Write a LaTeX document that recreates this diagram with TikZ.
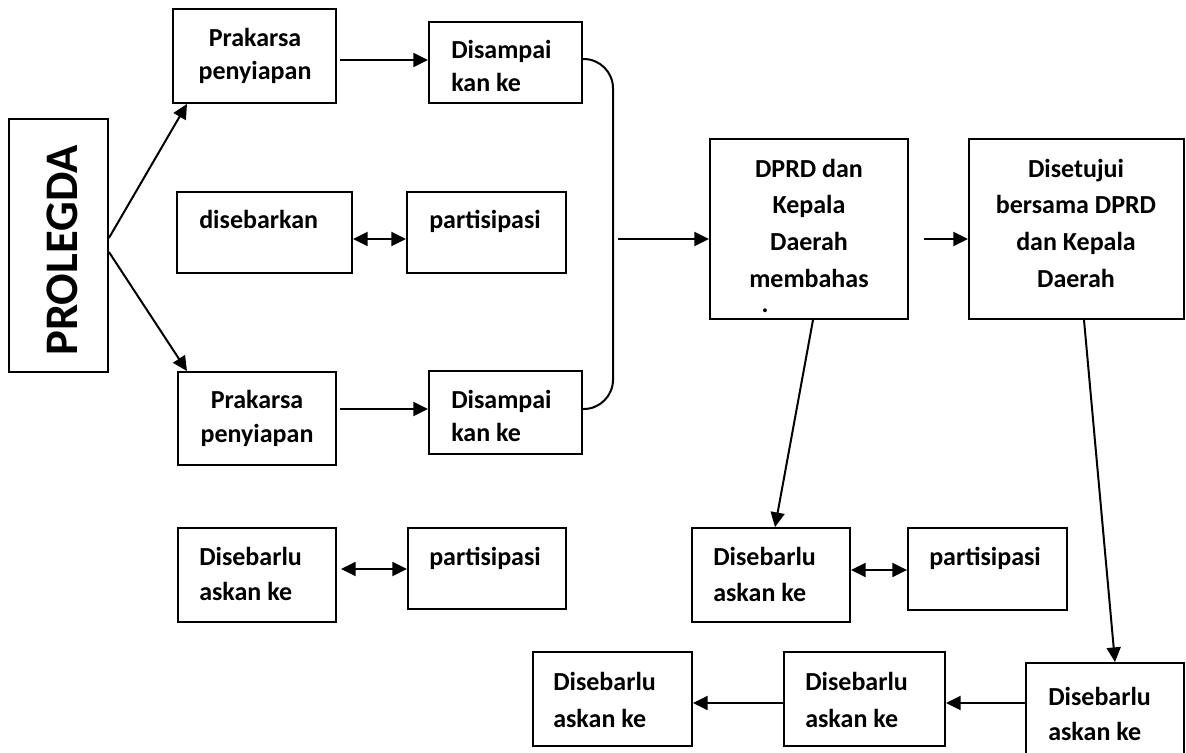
\documentclass[tikz,border=0pt]{standalone}
\usepackage{fontspec}
\setmainfont{Carlito}
\usetikzlibrary{arrows.meta,fit}
\begin{document}
\begin{tikzpicture}[x=0.75pt,y=-0.75pt,
  box/.style={draw, line width=1.4pt, inner sep=0pt},
  txt/.style={inner sep=0pt, font=\fontsize{19.5}{23}\selectfont\bfseries},
  arr/.style={line width=1.5pt, -{Triangle[length=11pt,width=10.5pt]}},
  darr/.style={line width=1.5pt, {Triangle[length=11pt,width=10.5pt]}-{Triangle[length=11pt,width=10.5pt]}},
  link/.style={line width=1.5pt, rounded corners=22pt}]
\useasboundingbox (0,0) rectangle (1186,753);
% boxes
\node[box, fit={(9,119)(108,372)}] (prol) {};
\node[box, fit={(173,9)(336,103)}] (pk1) {};
\node[box, fit={(429,22)(582,103)}] (ds1) {};
\node[box, fit={(177,192)(352,273)}] (seb) {};
\node[box, fit={(407,192)(566,273)}] (par1) {};
\node[box, fit={(178,372)(336,465)}] (pk2) {};
\node[box, fit={(429,371)(582,454)}] (ds2) {};
\node[box, fit={(178,528)(336,622)}] (dl1) {};
\node[box, fit={(408,528)(566,609)}] (par2) {};
\node[box, fit={(710,139)(908,319)}] (dprd) {};
\node[box, fit={(969,139)(1184,319)}] (setuju) {};
\node[box, fit={(692,528)(850,622)}] (dl2) {};
\node[box, fit={(908,528)(1067,610)}] (par3) {};
\node[box, fit={(1026,663)(1184,765)}] (dl3) {};
\node[box, fit={(784,652)(945,746)}] (dl4) {};
\node[box, fit={(533,652)(692,746)}] (dl5) {};
% texts
\node[txt, font=\fontsize{35}{40}\selectfont\bfseries, rotate=90] (prolt) at (62,250.5) {PROLEGDA};
\node[txt, anchor=base] (pk1a) at (255,46) {Prakarsa};
\node[txt, anchor=base] (pk1b) at (255,79) {penyiapan};
\node[txt, anchor=base west] (ds1a) at (451,58) {Disampai};
\node[txt, anchor=base west] (ds1b) at (451,91) {kan ke};
\node[txt, anchor=base west] (seba) at (199,228) {disebarkan};
\node[txt, anchor=base west] (par1a) at (429,228) {partisipasi};
\node[txt, anchor=base] (pk2a) at (257,408) {Prakarsa};
\node[txt, anchor=base] (pk2b) at (257,442) {penyiapan};
\node[txt, anchor=base west] (ds2a) at (451,408) {Disampai};
\node[txt, anchor=base west] (ds2b) at (451,441) {kan ke};
\node[txt, anchor=base west] (dl1a) at (199,565) {Disebarlu};
\node[txt, anchor=base west] (dl1b) at (199,600) {askan ke};
\node[txt, anchor=base west] (par2a) at (429,565) {partisipasi};
\node[txt, anchor=base] (dprda) at (809,177) {DPRD dan};
\node[txt, anchor=base] (dprdb) at (809,213) {Kepala};
\node[txt, anchor=base] (dprdc) at (809,250) {Daerah};
\node[txt, anchor=base] (dprdd) at (809,287) {membahas};
\node[txt, anchor=base] (dprde) at (765,312) {.};
\node[txt, anchor=base] (setujua) at (1076,177) {Disetujui};
\node[txt, anchor=base] (setujub) at (1076,213) {bersama DPRD};
\node[txt, anchor=base] (setujuc) at (1076,250) {dan Kepala};
\node[txt, anchor=base] (setujud) at (1076,287) {Daerah};
\node[txt, anchor=base west] (dl2a) at (713,565) {Disebarlu};
\node[txt, anchor=base west] (dl2b) at (713,601) {askan ke};
\node[txt, anchor=base west] (par3a) at (929,565) {partisipasi};
\node[txt, anchor=base west] (dl3a) at (1048,705) {Disebarlu};
\node[txt, anchor=base west] (dl3b) at (1048,740) {askan ke};
\node[txt, anchor=base west] (dl4a) at (805,690) {Disebarlu};
\node[txt, anchor=base west] (dl4b) at (805,727) {askan ke};
\node[txt, anchor=base west] (dl5a) at (553,690) {Disebarlu};
\node[txt, anchor=base west] (dl5b) at (553,727) {askan ke};
% free ends
\coordinate (a1) at (340,60);
\coordinate (a2) at (340,409);
\coordinate (a3) at (341,569);
\coordinate (a4) at (618,239);
\coordinate (a5) at (924,239);
\coordinate (b1) at (613,59);
\coordinate (b2) at (613,409);
% connectors
\draw[arr] (prol.east |- 0,238) -- (pk1.south -| 187,0);
\draw[arr] (prol.east |- 0,252) -- (pk2.north -| 187,0);
\draw[arr] (a1) -- (ds1.west |- a1);
\draw[darr] (seb.east |- 0,239) -- (par1.west |- 0,239);
\draw[arr] (a2) -- (ds2.west |- a2);
\draw[darr] (a3) -- (par2.west |- a3);
\draw[link] (ds1.east |- b1) -- (b1) -- (b2) -- (ds2.east |- b2);
\draw[arr] (a4) -- (dprd.west |- a4);
\draw[arr] (a5) -- (setuju.west |- a5);
\draw[arr] (dprd.south -| 813,0) -- (dl2.north -| 775,0);
\draw[arr] (setuju.south -| 1084,0) -- (dl3.north -| 1115,0);
\draw[darr] (dl2.east |- 0,570) -- (par3.west |- 0,570);
\draw[arr] (dl3.west |- 0,703) -- (dl4.east |- 0,703);
\draw[arr] (dl4.west |- 0,703) -- (dl5.east |- 0,703);
\end{tikzpicture}
\end{document}
